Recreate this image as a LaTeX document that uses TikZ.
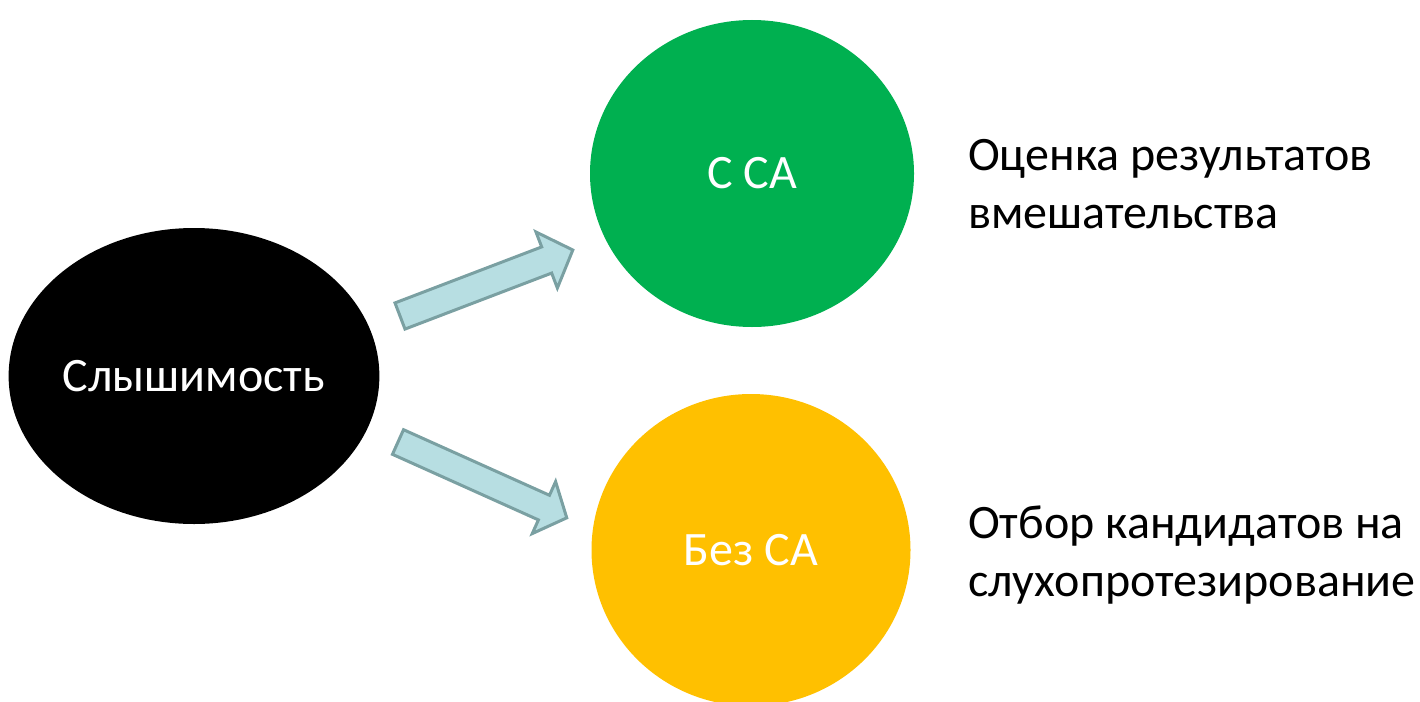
\documentclass[tikz,border=0pt]{standalone}
\usepackage{fontspec}
\setmainfont{Carlito}
\definecolor{cgreen}{HTML}{00B050}
\definecolor{cyellow}{HTML}{FFC000}
\definecolor{afill}{RGB}{183,222,226}
\definecolor{aline}{RGB}{122,160,162}
\tikzset{
  blob/.style={ellipse, draw=none, text=white, font=\fontsize{48}{58}\selectfont, inner sep=0pt},
  note/.style={anchor=west, align=left, font=\fontsize{48}{58}\selectfont, inner sep=0pt},
  blockarrow/.style={fill=afill, draw=aline, line width=3pt, line join=miter}
}
\usetikzlibrary{shapes.geometric}
\begin{document}
\begin{tikzpicture}[x=1pt,y=1pt]
\useasboundingbox (0,0) rectangle (1420,-701);
\begin{scope}
\clip (0,0) rectangle (1420,-701);
\node[blob, fill=black, minimum width=368pt, minimum height=296pt] (hear) at (194,-376) {Слышимость};
\node[blob, fill=cgreen, minimum width=324pt, minimum height=307pt] (withca) at (752,-173.5) {С СА};
\node[blob, fill=cyellow, minimum width=319pt, minimum height=312pt] (noca) at (751,-550) {Без СА};
\end{scope}
\node[note] (t1) at (968,-184.5) {Оценка результатов\\вмешательства};
\node[note] (t2) at (968,-555) {Отбор кандидатов на\\слухопротезирование};
\begin{scope}[shift={(400,-316)}, rotate=20.9]
  \draw[blockarrow] (0,-14) -- (157,-14) -- (157,-30) -- (185,0) -- (157,30) -- (157,14) -- (0,14) -- cycle;
\end{scope}
\begin{scope}[shift={(398,-442)}, rotate=-24.2]
  \draw[blockarrow] (0,-13.5) -- (160,-13.5) -- (160,-28.5) -- (185,0) -- (160,28.5) -- (160,13.5) -- (0,13.5) -- cycle;
\end{scope}
\end{tikzpicture}
\end{document}
